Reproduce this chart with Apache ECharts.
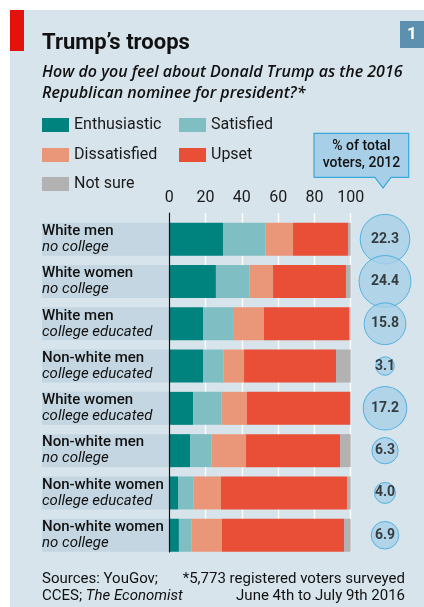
<!DOCTYPE html>
<html>
<head>
<meta charset="utf-8">
<script src="https://cdn.jsdelivr.net/npm/echarts@6/dist/echarts.min.js"></script>
<style>
html,body{margin:0;padding:0;background:#fff;}
#c{width:424px;height:607px;}
</style>
</head>
<body>
<div id="c"></div>
<script>
// ---- data ----
const groupTop = ["White men","White women","White men","Non-white men","White women","Non-white men","Non-white women","Non-white women"];
const groupSub = ["no college","no college","college educated","college educated","college educated","no college","college educated","no college"];
const enthusiastic = [29.6, 25.7, 18.6, 18.6, 13.1, 11.4, 4.8, 5.3];
const satisfied    = [23.5, 18.6, 16.5, 11.4, 15.6, 11.8, 8.4, 6.8];
const dissatisfied = [15.1, 12.9, 17.1, 11.2, 14.1, 19.1, 15.3, 16.9];
const upset        = [30.3, 40.2, 46.9, 50.7, 56.8, 51.8, 69.5, 67.3];
const notSure      = [1.5, 2.6, 0.9, 8.1, 0.4, 5.9, 2.0, 3.7];
const voterShare   = [22.3, 24.4, 15.8, 3.1, 17.2, 6.3, 4.0, 6.9];
const xTicks = [0, 20, 40, 60, 80, 100];

const categories = groupTop.map((t, i) => t + "|" + groupSub[i]);

const FONT = "Roboto";
const BG = "#d7e4ec";
const colors = {
  Enthusiastic: "#00827f",
  Satisfied: "#7fbec3",
  Dissatisfied: "#ea9679",
  Upset: "#e84f36",
  "Not sure": "#b2b2b2"
};

const chart = echarts.init(document.getElementById('c'), null, {renderer: 'canvas'});

const rowTop = 218, rowH = 338.4, barW = 33;

function catAxis(gi) {
  return {type: 'category', gridIndex: gi, data: categories, inverse: true, show: false};
}

const stackSeries = [
  ["Enthusiastic", enthusiastic],
  ["Satisfied", satisfied],
  ["Dissatisfied", dissatisfied],
  ["Upset", upset],
  ["Not sure", notSure]
].map(([name, vals]) => ({
  name: name,
  type: 'bar',
  stack: 'all',
  xAxisIndex: 0,
  yAxisIndex: 0,
  barWidth: barW,
  itemStyle: {color: colors[name]},
  data: vals,
  z: 3,
  animation: false
}));

function legendAt(name, left, top) {
  return {
    data: [name],
    left: left, top: top,
    padding: 0,
    itemWidth: 27, itemHeight: 14,
    icon: 'rect',
    selectedMode: false,
    textStyle: {fontFamily: FONT, fontSize: 16, color: '#1a1a1a', lineHeight: 14}
  };
}

const option = {
  backgroundColor: '#ffffff',
  animation: false,
  legend: [
    legendAt("Enthusiastic", 42, 117),
    legendAt("Satisfied", 179, 117),
    legendAt("Dissatisfied", 42, 147),
    legendAt("Upset", 179, 147),
    legendAt("Not sure", 42, 176)
  ],
  grid: [
    {left: 169.3, right: 73.3, top: rowTop, height: rowH},            // 0 bars
    {left: 169.3, right: 73.3, top: 213, height: 339},                // 1 gridlines / ticks
    {left: 42, width: 127.3, top: rowTop, height: rowH},              // 2 label bands
    {left: 360, width: 50, top: rowTop, height: rowH}                 // 3 bubbles
  ],
  xAxis: [
    {type: 'value', gridIndex: 0, min: 0, max: 100, show: false},
    {type: 'value', gridIndex: 1, min: 0, max: 100, interval: 20, position: 'top',
     axisLine: {show: false}, axisTick: {show: false},
     axisLabel: {margin: 7, fontFamily: FONT, fontSize: 16, color: '#1a1a1a',
                 customValues: xTicks},
     splitLine: {show: true, lineStyle: {color: '#ffffff', width: 1.3}}},
    {type: 'value', gridIndex: 2, min: 0, max: 1, show: false},
    {type: 'value', gridIndex: 3, min: -1, max: 1, show: false}
  ],
  yAxis: [
    catAxis(0),
    {type: 'value', gridIndex: 1, min: 0, max: 1, z: 6,
     axisLine: {show: true, lineStyle: {color: '#111', width: 1.2}},
     axisTick: {show: false}, axisLabel: {show: false}, splitLine: {show: false}},
    catAxis(2),
    catAxis(3)
  ],
  series: [
    ...stackSeries,
    {
      type: 'bar', xAxisIndex: 2, yAxisIndex: 2, barWidth: barW,
      silent: true,
      itemStyle: {color: '#c4d6e1'},
      data: categories.map(() => 1),
      label: {
        show: true, position: 'insideLeft', distance: 0,
        formatter: p => '{a|' + groupTop[p.dataIndex] + '}\n{b|' + groupSub[p.dataIndex] + '}',
        rich: {
          a: {fontFamily: FONT, fontSize: 15, fontWeight: 500, color: '#111', lineHeight: 16},
          b: {fontFamily: FONT, fontSize: 15, fontStyle: 'italic', color: '#111', lineHeight: 16}
        }
      }
    },
    {
      type: 'scatter', xAxisIndex: 3, yAxisIndex: 3,
      silent: true,
      data: voterShare.map((v, i) => [0, i, v]),
      symbolSize: d => 10.5 * Math.sqrt(d[2]),
      itemStyle: {color: '#a7d0e8', borderColor: '#39a7dc', borderWidth: 1},
      label: {
        show: true, position: 'inside',
        formatter: p => p.data[2].toFixed(1),
        fontFamily: FONT, fontSize: 14, fontWeight: 'bold', color: '#151515'
      },
      z: 4
    }
  ],
  graphic: [
    {type: 'rect', z: -10, shape: {x: 10, y: 10, width: 414, height: 597}, style: {fill: BG}},
    {type: 'rect', shape: {x: 10, y: 10, width: 14, height: 41}, style: {fill: '#e3120b'}},
    {type: 'rect', shape: {x: 400, y: 21, width: 24, height: 27}, style: {fill: '#5d8fae'}},
    {type: 'text', x: 412, y: 34.5, style: {text: '1', fill: '#fff', font: 'bold 17px ' + FONT, align: 'center', verticalAlign: 'middle'}},
    {type: 'text', x: 42, y: 43, style: {text: 'Trump’s troops', fill: '#111', font: 'bold 22px ' + FONT, verticalAlign: 'middle'}},
    {type: 'text', x: 42, y: 72, style: {text: 'How do you feel about Donald Trump as the 2016', fill: '#111', font: 'italic 600 16px "Open Sans"', verticalAlign: 'middle'}},
    {type: 'text', x: 42, y: 93.5, style: {text: 'Republican nominee for president?*', fill: '#111', font: 'italic 600 16px "Open Sans"', verticalAlign: 'middle'}},
    {type: 'polygon', z: 10, shape: {points: [[314,133.3],[408.7,133.3],[408.7,177.3],[391,177.3],[383,188],[375,177.3],[314,177.3]]},
     style: {fill: '#a7d0e8', stroke: '#39a7dc', lineWidth: 1.2}},
    {type: 'text', z: 11, x: 361.5, y: 146.5, style: {text: '% of total', fill: '#111', font: '500 14px ' + FONT, align: 'center', verticalAlign: 'middle'}},
    {type: 'text', z: 11, x: 361.5, y: 163.5, style: {text: 'voters, 2012', fill: '#111', font: '500 14px ' + FONT, align: 'center', verticalAlign: 'middle'}},
    {type: 'text', x: 42, y: 579, style: {text: 'Sources: YouGov;', fill: '#111', font: '15px ' + FONT, verticalAlign: 'middle'}},
    {type: 'text', x: 42, y: 596, style: {
      text: '{n|CCES; }{i|The Economist}', fill: '#111', verticalAlign: 'middle',
      rich: {n: {fontFamily: FONT, fontSize: 15, fill: '#111'}, i: {fontFamily: FONT, fontSize: 15, fontStyle: 'italic', fill: '#111'}}
    }},
    {type: 'text', x: 405, y: 579, style: {text: '*5,773 registered voters surveyed', fill: '#111', font: '15px ' + FONT, align: 'right', verticalAlign: 'middle'}},
    {type: 'text', x: 405, y: 596, style: {text: 'June 4th to July 9th 2016', fill: '#111', font: '15px ' + FONT, align: 'right', verticalAlign: 'middle'}}
  ]
};

chart.setOption(option);
</script>
</body>
</html>
